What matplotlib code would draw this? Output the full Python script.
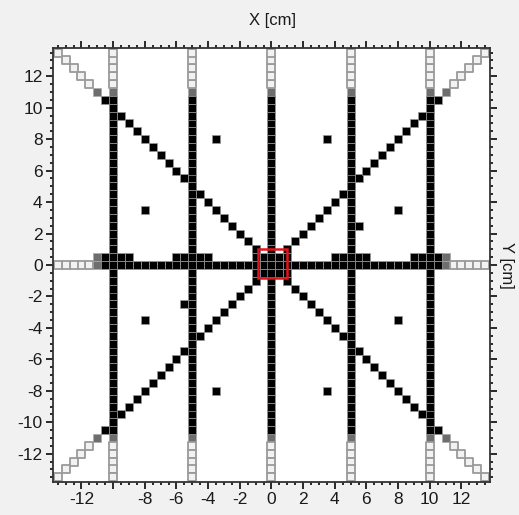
import numpy as np
import matplotlib
matplotlib.use("Agg")
import matplotlib.pyplot as plt
from matplotlib.patches import Rectangle

plt.rcParams['font.family'] = ['Liberation Sans', 'DejaVu Sans']
plt.rcParams['axes.unicode_minus'] = False

# grid of detector cells, 0.5 cm pitch
step = 0.5
edge = 13.5          # last cell centre
black_end = 10.5     # black cells up to here, grey beyond
col_x = [-10, -5, 0, 5, 10]                       # vertical lines
row_y = [0]                                       # horizontal line
diag_start = 1.0                                  # diagonals start here
# extra cells on the row y = 0.5 (x ranges)
bump_ranges = [(-10.5, -9), (-6, -4), (4, 6), (9, 10.5)]
bump_mid_x = [-11, 11]
# block round the centre
centre_x = [-1, -0.5, 0, 0.5, 1]
centre_y = [-1, -0.5, 0, 0.5, 1]
# isolated cells
spot_x = [-3.5, 3.5, -8, 8, 5.5, -5.5, -8, 8, -3.5, 3.5]
spot_y = [8, 8, 3.5, 3.5, 2.5, -2.5, -3.5, -3.5, -8, -8]
# red box round the centre
box_centre = (0.05, 0.1)
box_size = 1.85

xticks = list(range(-12, 13, 2))
xlabels = [str(v) if v != -10 else '' for v in xticks]
yticks = list(range(-12, 13, 2))


def cells(a, b):
    return np.arange(a, b + step / 2, step)


black, mid, grey = [], [], []
for x in col_x:
    for y in cells(-black_end, black_end):
        black.append((x, y))
    for s in (-1, 1):
        mid.append((x, s * 11))
        for y in cells(11.5, edge):
            grey.append((x, s * y))
for y0 in row_y:
    for x in cells(-black_end, black_end):
        black.append((x, y0))
    for s in (-1, 1):
        mid.append((s * 11, y0))
        for x in cells(11.5, edge):
            grey.append((s * x, y0))
for a, b in bump_ranges:
    for x in cells(a, b):
        black.append((x, 0.5))
for x in bump_mid_x:
    mid.append((x, 0.5))
for x in centre_x:
    for y in centre_y:
        if abs(x) == 1 or abs(y) < 1:
            black.append((x, y))
for sx in (-1, 1):
    for sy in (-1, 1):
        for t in cells(diag_start, black_end):
            black.append((sx * t, sy * t))
        mid.append((sx * 11, sy * 11))
        for t in cells(11.5, edge):
            grey.append((sx * t, sy * t))
for x, y in zip(spot_x, spot_y):
    black.append((x, y))

fig = plt.figure(figsize=(5.19, 5.15), dpi=100, facecolor='#f1f1f1')
ax = fig.add_axes([0.102, 0.064, 0.842, 0.843])
ax.set_facecolor('white')

bx, by = zip(*black)
ax.scatter(bx, by, marker='s', s=30, c='black', edgecolors='#9a9a9a',
           linewidths=0.5, zorder=3)
mx, my = zip(*mid)
ax.scatter(mx, my, marker='s', s=30, c='#6e6e6e', edgecolors='#aaaaaa',
           linewidths=0.5, zorder=2)
gx, gy = zip(*grey)
ax.scatter(gx, gy, marker='s', s=26, facecolors='#f2f2f2',
           edgecolors='#9a9a9a', linewidths=1.3, zorder=2)

ax.add_patch(Rectangle((box_centre[0] - box_size / 2, box_centre[1] - box_size / 2),
                       box_size, box_size, fill=False, edgecolor='#e0151b',
                       linewidth=1.8, zorder=4))

ax.set_xlim(-13.8, 13.8)
ax.set_ylim(-13.8, 13.8)
ax.set_xticks(xticks)
ax.set_xticklabels(xlabels)
ax.set_yticks(yticks)
ax.set_xticks(np.arange(-13.5, 13.6, 0.5), minor=True)
ax.set_yticks(np.arange(-13.5, 13.6, 0.5), minor=True)
ax.tick_params(which='both', direction='out', top=True, right=True,
               labeltop=False, labelright=False, labelsize=12.5, colors='#1a1a1a')
ax.tick_params(which='major', length=5, width=1.3, pad=2.5)
ax.tick_params(which='minor', length=2.5, width=1.3)
for sp in ax.spines.values():
    sp.set_linewidth(1.3)
    sp.set_color('#333333')

fig.text(0.525, 0.96, 'X [cm]', ha='center', va='center', fontsize=12, color='#1a1a1a')
fig.text(0.975, 0.485, 'Y [cm]', ha='center', va='center', fontsize=12,
         rotation=-90, color='#1a1a1a')

fig.savefig('out.png', dpi=100, facecolor=fig.get_facecolor())
